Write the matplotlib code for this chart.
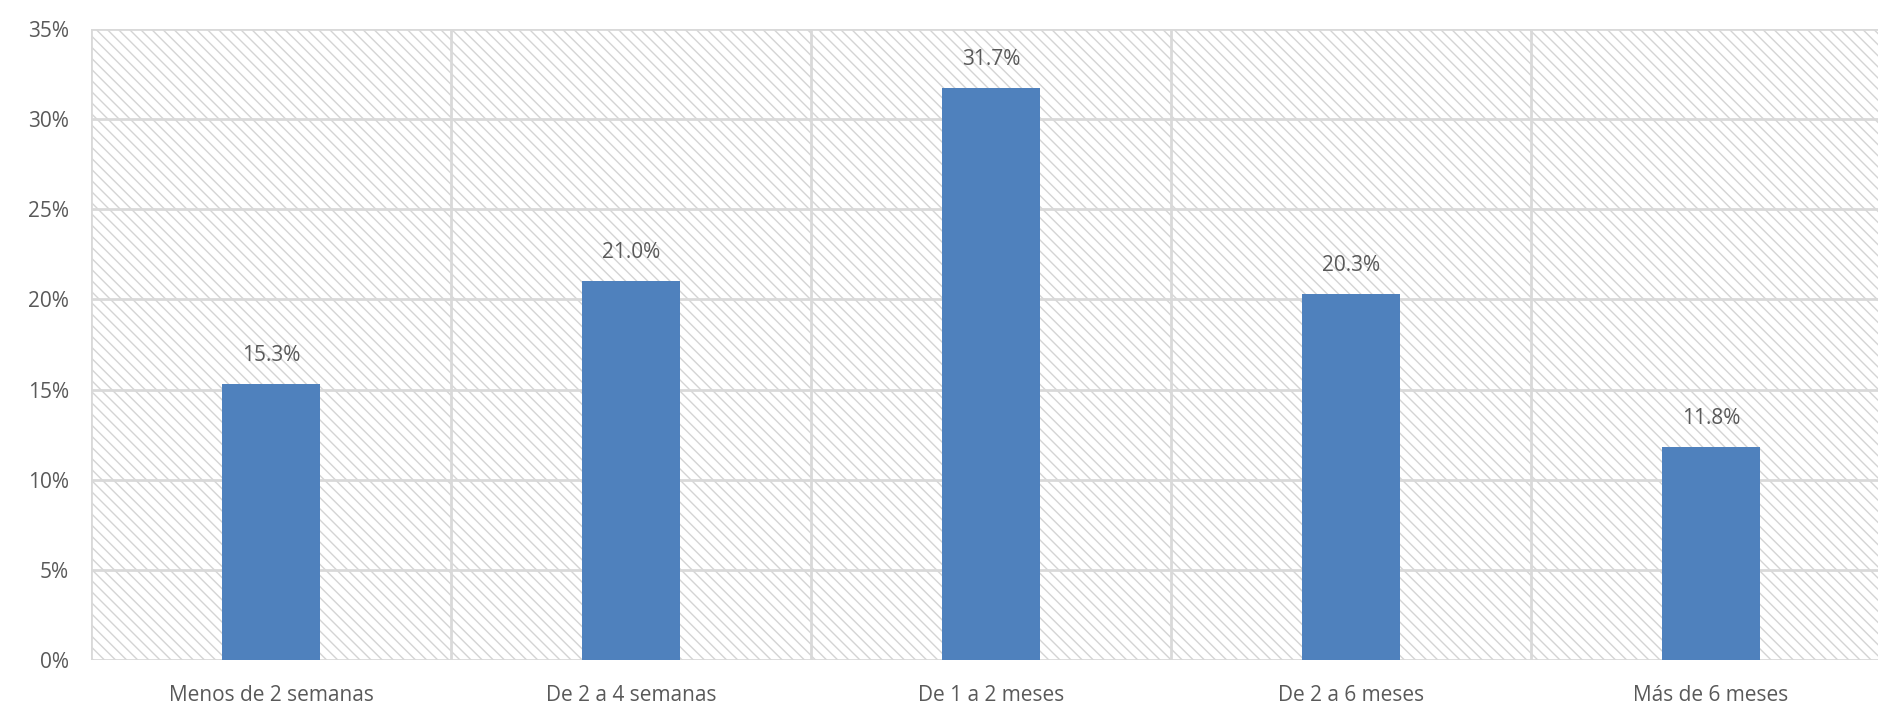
import matplotlib
matplotlib.use("Agg")
import matplotlib.pyplot as plt
from matplotlib.patches import Rectangle
from matplotlib.ticker import FuncFormatter, MultipleLocator

categories = ["Menos de 2 semanas", "De 2 a 4 semanas", "De 1 a 2 meses", "De 2 a 6 meses", "Más de 6 meses"]
values = [15.3, 21.0, 31.7, 20.3, 11.8]
labels = ["15.3%", "21.0%", "31.7%", "20.3%", "11.8%"]

plt.rcParams['font.family'] = ['Open Sans', 'DejaVu Sans']
plt.rcParams['hatch.linewidth'] = 1.0
plt.rcParams['hatch.color'] = '#d4d4d4'

W, H = 1878, 707
fig = plt.figure(figsize=(W/100, H/100), dpi=100)
left, right, top, bottom = 91, 1891, 29, 660
ax = fig.add_axes([left/W, 1-bottom/H, (right-left)/W, (bottom-top)/H])

n = len(categories)
ax.set_xlim(-0.5, n-0.5)
ax.set_ylim(0, 35)

bg = Rectangle((0, 0), 1, 1, transform=ax.transAxes, facecolor='white',
               edgecolor='#d4d4d4', hatch='\\\\\\', linewidth=0, zorder=0)
ax.add_patch(bg)

ax.yaxis.set_major_locator(MultipleLocator(5))
ax.yaxis.set_major_formatter(FuncFormatter(lambda v, p: f"{v:.0f}%"))
ax.grid(axis='y', color='#d9d9d9', linewidth=2, zorder=1)
for b in range(n + 1):
    ax.axvline(b - 0.5, color='#d9d9d9', linewidth=2, zorder=1)

x = list(range(n))
ax.bar(x, values, width=0.27, color='#4f81bd', zorder=3)
for xi, v, lab in zip(x, values, labels):
    ax.text(xi, v + 1.0, lab, ha='center', va='bottom', fontsize=15, color='#595959', zorder=4)

ax.set_xticks(x)
ax.set_xticklabels(categories)
ax.tick_params(axis='both', length=0, labelsize=15, labelcolor='#595959')
ax.tick_params(axis='x', pad=18)
ax.tick_params(axis='y', pad=16)
for s in ax.spines.values():
    s.set_visible(False)
ax.set_axisbelow(True)

fig.savefig("out.png", dpi=100)
